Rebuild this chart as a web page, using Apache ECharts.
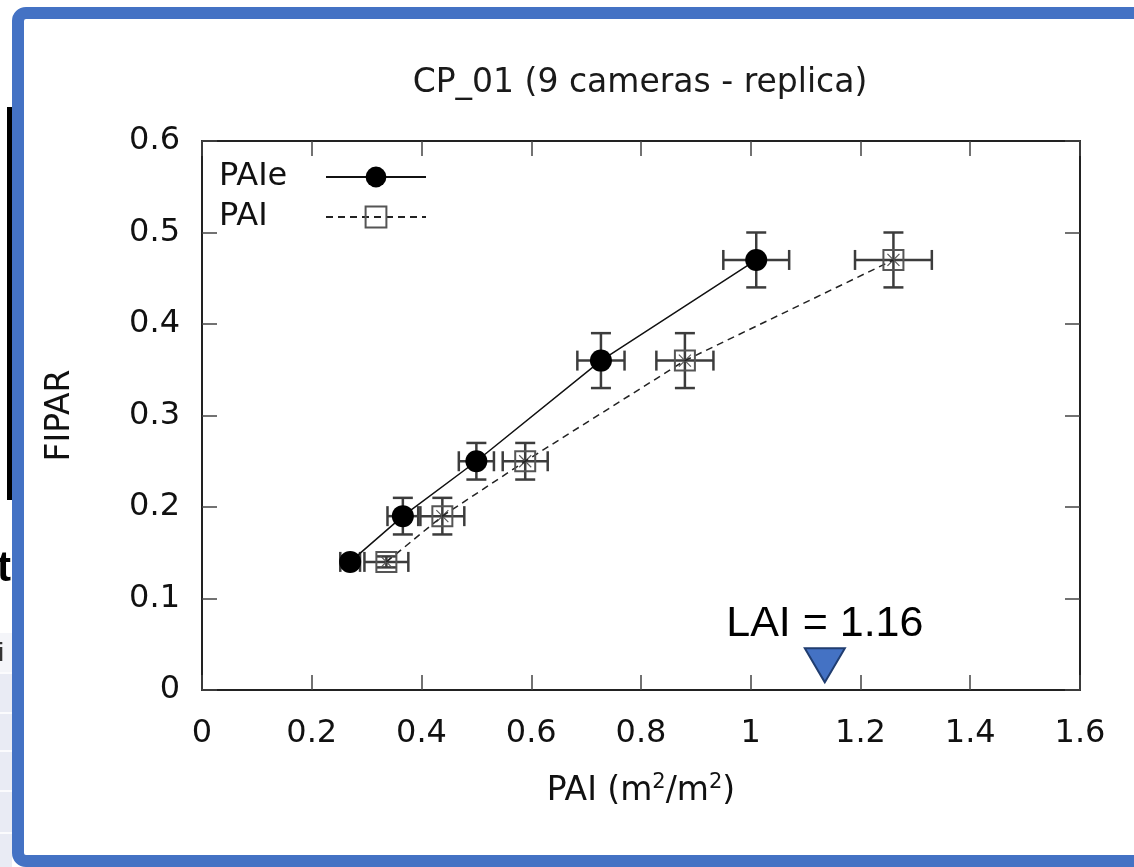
<!DOCTYPE html>
<html>
<head>
<meta charset="utf-8">
<script src="https://cdn.jsdelivr.net/npm/echarts@6/dist/echarts.min.js"></script>
<style>
  html, body { margin: 0; padding: 0; background: #fff; }
  #chart { width: 1134px; height: 867px; }
</style>
</head>
<body>
<div id="chart"></div>
<script>
// PAIe series (effective PAI) with error bars
const paieX = [0.27, 0.366, 0.5, 0.727, 1.01]
const paieY = [0.14, 0.19, 0.25, 0.36, 0.47]
const paieDx = [0.018, 0.028, 0.032, 0.043, 0.06]
const paieDy = [0.006, 0.02, 0.02, 0.03, 0.03]

// PAI series with error bars
const paiX = [0.336, 0.438, 0.589, 0.88, 1.26]
const paiY = [0.14, 0.19, 0.25, 0.36, 0.47]
const paiDx = [0.04, 0.04, 0.041, 0.052, 0.07]
const paiDy = [0.006, 0.02, 0.02, 0.03, 0.03]

// LAI annotation marker
const laiPoint = [1.135, 0.027]
const laiText = 'LAI = 1.16'

const FONT = 'DejaVu Sans'
const AXIS = '#222'
const FS = 32

const chart = echarts.init(document.getElementById('chart'))

const zip = (xs, ys, a, b) => xs.map((x, i) => a ? [x, ys[i], a[i], b[i]] : [x, ys[i]])

const errorBars = withCross => (params, api) => {
  const x = api.value(0), y = api.value(1), dx = api.value(2), dy = api.value(3)
  const c = api.coord([x, y])
  const l = api.coord([x - dx, y]), r = api.coord([x + dx, y])
  const t = api.coord([x, y + dy]), b = api.coord([x, y - dy])
  const cap = 10
  const style = { stroke: '#3c3c3c', lineWidth: 2.5, fill: null }
  const seg = (x1, y1, x2, y2) => ({ type: 'line', shape: { x1, y1, x2, y2 }, style })
  const kids = [
    seg(l[0], l[1], r[0], r[1]),
    seg(t[0], t[1], b[0], b[1]),
    seg(l[0], l[1] - cap, l[0], l[1] + cap),
    seg(r[0], r[1] - cap, r[0], r[1] + cap),
    seg(t[0] - cap, t[1], t[0] + cap, t[1]),
    seg(b[0] - cap, b[1], b[0] + cap, b[1])
  ]
  if (withCross) {
    const s = 6
    const thin = { stroke: '#555', lineWidth: 1.2 }
    kids.push({ type: 'line', z2: 10, shape: { x1: c[0] - s, y1: c[1] - s, x2: c[0] + s, y2: c[1] + s }, style: thin })
    kids.push({ type: 'line', z2: 10, shape: { x1: c[0] - s, y1: c[1] + s, x2: c[0] + s, y2: c[1] - s }, style: thin })
  }
  return { type: 'group', children: kids }
}

const axisCommon = {
  type: 'value',
  axisLine: { show: true, onZero: false, lineStyle: { color: AXIS, width: 2 } },
  axisTick: { show: true, inside: true, length: 15, lineStyle: { color: '#444', width: 1.5 } },
  splitLine: { show: false }
}

const option = {
  animation: false,
  backgroundColor: '#fff',
  title: {
    text: 'CP_01 (9 cameras - replica)',
    left: 635,
    textAlign: 'center',
    top: 62,
    textStyle: { fontFamily: FONT, fontSize: 33, fontWeight: 'normal', color: '#1a1a1a' }
  },
  grid: { left: 202, right: 54, top: 141, bottom: 177 },
  legend: {
    orient: 'vertical',
    left: 214,
    top: 156,
    align: 'right',
    itemWidth: 100,
    itemHeight: 26,
    itemGap: 8,
    data: ['PAIe', 'PAI'],
    formatter: name => `{n|${name}}`,
    textStyle: {
      lineHeight: 26,
      rich: { n: { fontFamily: FONT, fontSize: FS, color: '#111', width: 102, align: 'left', lineHeight: 26 } }
    }
  },
  xAxis: [
    {
      ...axisCommon,
      min: 0, max: 1.6, interval: 0.2,
      axisLabel: { fontFamily: FONT, fontSize: FS, color: '#111', margin: 28 },
      name: '{a|PAI (m}{s|2}{a|/m}{s|2}{a|)}',
      nameLocation: 'middle',
      nameGap: 82,
      nameTextStyle: {
        rich: {
          a: { fontFamily: FONT, fontSize: 33, color: '#111', lineHeight: 38 },
          s: { fontFamily: FONT, fontSize: 21, color: '#111', lineHeight: 38, verticalAlign: 'top' }
        }
      }
    },
    { ...axisCommon, position: 'top', min: 0, max: 1.6, interval: 0.2, axisLabel: { show: false } }
  ],
  yAxis: [
    {
      ...axisCommon,
      min: 0, max: 0.6, interval: 0.1,
      axisLabel: { fontFamily: FONT, fontSize: FS, color: '#111', margin: 22 },
      name: 'FIPAR',
      nameLocation: 'middle',
      nameGap: 125,
      nameTextStyle: { fontFamily: FONT, fontSize: 33, color: '#111' }
    },
    { ...axisCommon, position: 'right', min: 0, max: 0.6, interval: 0.1, axisLabel: { show: false } }
  ],
  series: [
    {
      type: 'custom',
      renderItem: errorBars(false),
      data: zip(paieX, paieY, paieDx, paieDy),
      z: 1
    },
    {
      type: 'custom',
      renderItem: errorBars(true),
      data: zip(paiX, paiY, paiDx, paiDy),
      z: 1
    },
    {
      name: 'PAIe',
      type: 'line',
      data: zip(paieX, paieY),
      symbol: 'circle',
      symbolSize: 22,
      itemStyle: { color: '#000' },
      lineStyle: { color: '#111', width: 1.5 },
      z: 3
    },
    {
      name: 'PAI',
      type: 'line',
      data: zip(paiX, paiY),
      symbol: 'rect',
      symbolSize: 20,
      itemStyle: { color: 'rgba(255,255,255,0)', borderColor: '#555', borderWidth: 2 },
      lineStyle: { color: '#222', width: 1.5, type: [7, 5] },
      z: 2
    },
    {
      type: 'scatter',
      data: [laiPoint],
      symbol: 'triangle',
      symbolRotate: 180,
      symbolSize: [40, 34],
      itemStyle: { color: '#4472c4', borderColor: '#203d70', borderWidth: 2, opacity: 1 },
      label: {
        show: true,
        position: 'top',
        distance: 0,
        formatter: laiText,
        fontFamily: 'Liberation Sans',
        fontSize: 43,
        lineHeight: 46,
        color: '#000',
        opacity: 1
      },
      z: 4
    }
  ],
  graphic: [
    // screenshot surroundings
    { type: 'rect', shape: { x: 7, y: 107, width: 5, height: 393 }, style: { fill: '#000' }, z: 100 },
    { type: 'text', x: -3, y: 548, style: { text: 't', font: 'bold 42px "Liberation Sans"', fill: '#000' }, z: 100 },
    { type: 'rect', shape: { x: 0, y: 633, width: 12, height: 234 }, style: { fill: '#e9ebf4' }, z: 100 },
    { type: 'rect', shape: { x: 0, y: 633, width: 12, height: 39 }, style: { fill: '#f4f5f9' }, z: 100 },
    { type: 'text', x: -9, y: 641, style: { text: 'ti', font: '26px "Liberation Sans"', fill: '#333' }, z: 101 },
    ...[672, 712, 750, 790, 832].map(y => ({
      type: 'rect', shape: { x: 0, y: y, width: 12, height: 2 }, style: { fill: '#fbfbfd' }, z: 101
    })),
    {
      type: 'rect',
      shape: { x: 18, y: 13, width: 1150, height: 848, r: 8 },
      style: { fill: null, stroke: '#4472c4', lineWidth: 12 },
      z: 102
    }
  ]
}

chart.setOption(option)
window.addEventListener('resize', () => chart.resize())
</script>
</body>
</html>
